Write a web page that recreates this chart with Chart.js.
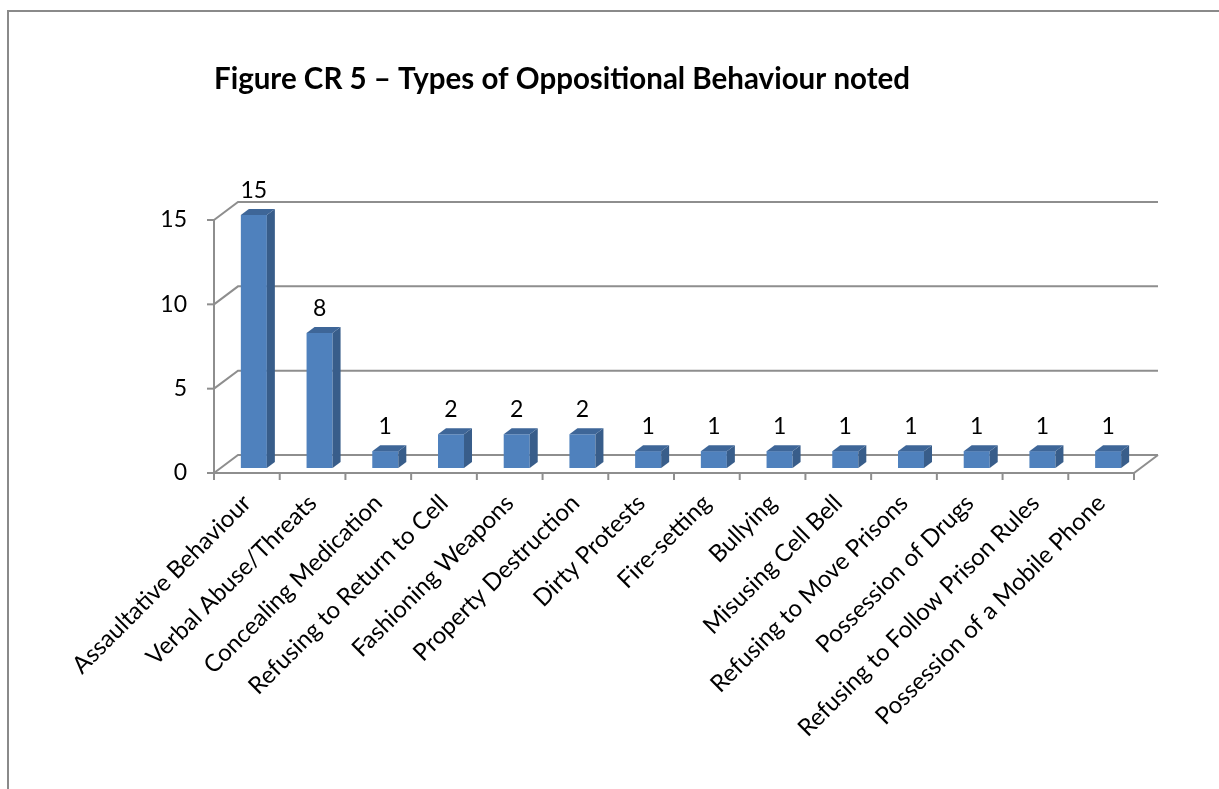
<!DOCTYPE html>
<html>
<head>
<meta charset="utf-8">
<script src="https://cdn.jsdelivr.net/npm/chart.js@4/dist/chart.umd.min.js"></script>
<style>
  html, body { margin: 0; padding: 0; background: #ffffff; }
  #wrap { width: 1219px; height: 789px; }
</style>
</head>
<body>
<div id="wrap"><canvas id="c" width="1219" height="789"></canvas></div>
<script>
const categories = [
  "Assaultative Behaviour",
  "Verbal Abuse/Threats",
  "Concealing Medication",
  "Refusing to Return to Cell",
  "Fashioning Weapons",
  "Property Destruction",
  "Dirty Protests",
  "Fire-setting",
  "Bullying",
  "Misusing Cell Bell",
  "Refusing to Move Prisons",
  "Possession of Drugs",
  "Refusing to Follow Prison Rules",
  "Possession of a Mobile Phone"
];
const counts = [15, 8, 1, 2, 2, 2, 1, 1, 1, 1, 1, 1, 1, 1];
const yTicks = [0, 5, 10, 15];
const titleText = "Figure CR 5 \u2013 Types of Oppositional Behaviour noted";

const FONT = "Lato, 'Open Sans', sans-serif";
const GRID = '#8e8e8e';
const DEPTH = { dx: 24, dy: -18 };   // back wall offset
const BAR_SHIFT = { dx: 7, dy: -5 }; // bar plane offset
const BAR_DEPTH = { dx: 8, dy: -6 }; // bar thickness

const framePlugin = {
  id: 'frame',
  beforeDraw(chart) {
    const ctx = chart.ctx;
    ctx.save();
    ctx.fillStyle = '#ffffff';
    ctx.fillRect(0, 0, chart.width, chart.height);
    ctx.strokeStyle = '#8a8a8a';
    ctx.lineWidth = 2;
    ctx.beginPath();
    ctx.moveTo(8, chart.height + 2);
    ctx.lineTo(8, 11);
    ctx.lineTo(chart.width + 2, 11);
    ctx.stroke();
    ctx.restore();
  }
};

const wallsPlugin = {
  id: 'walls',
  beforeDatasetsDraw(chart) {
    const ctx = chart.ctx;
    const xs = chart.scales.x, ys = chart.scales.y;
    const L = xs.left, R = xs.right;
    ctx.save();
    ctx.strokeStyle = GRID;
    ctx.lineWidth = 2;
    ctx.lineCap = 'butt';
    yTicks.forEach(v => {
      const y = ys.getPixelForValue(v);
      ctx.beginPath();
      ctx.moveTo(L, y);
      ctx.lineTo(L + DEPTH.dx, y + DEPTH.dy);
      ctx.lineTo(R + DEPTH.dx, y + DEPTH.dy);
      ctx.stroke();
      ctx.beginPath();
      ctx.moveTo(L - 7, y);
      ctx.lineTo(L, y);
      ctx.stroke();
    });
    const y0 = ys.getPixelForValue(0);
    const yTop = ys.getPixelForValue(15);
    ctx.beginPath();
    ctx.moveTo(L, yTop);
    ctx.lineTo(L, y0 + 7);
    ctx.stroke();
    ctx.beginPath();
    ctx.moveTo(L, y0);
    ctx.lineTo(R, y0);
    ctx.lineTo(R + DEPTH.dx, y0 + DEPTH.dy);
    ctx.stroke();
    const n = categories.length;
    for (let i = 0; i <= n; i++) {
      const x = L + (R - L) * i / n;
      ctx.beginPath();
      ctx.moveTo(x, y0);
      ctx.lineTo(x, y0 + 7);
      ctx.stroke();
    }
    ctx.restore();
    ctx.save();
    ctx.translate(BAR_SHIFT.dx, BAR_SHIFT.dy);
  },
  afterDatasetsDraw(chart) {
    const ctx = chart.ctx;
    const meta = chart.getDatasetMeta(0);
    meta.data.forEach(bar => {
      const p = bar.getProps(['x', 'y', 'base', 'width'], true);
      const l = p.x - p.width / 2, r = p.x + p.width / 2;
      const t = p.y, b = p.base;
      ctx.fillStyle = '#385d8a';
      ctx.beginPath();
      ctx.moveTo(r, t);
      ctx.lineTo(r + BAR_DEPTH.dx, t + BAR_DEPTH.dy);
      ctx.lineTo(r + BAR_DEPTH.dx, b + BAR_DEPTH.dy);
      ctx.lineTo(r, b);
      ctx.closePath();
      ctx.fill();
      ctx.fillStyle = '#3e6698';
      ctx.beginPath();
      ctx.moveTo(l, t);
      ctx.lineTo(l + BAR_DEPTH.dx, t + BAR_DEPTH.dy);
      ctx.lineTo(r + BAR_DEPTH.dx, t + BAR_DEPTH.dy);
      ctx.lineTo(r, t);
      ctx.closePath();
      ctx.fill();
    });
    ctx.restore();
    ctx.save();
    ctx.fillStyle = '#000000';
    ctx.font = "23px " + FONT;
    ctx.textAlign = 'center';
    ctx.textBaseline = 'alphabetic';
    meta.data.forEach((bar, i) => {
      const p = bar.getProps(['x', 'y'], true);
      ctx.fillText(String(counts[i]), p.x + BAR_SHIFT.dx, p.y + BAR_SHIFT.dy - 17);
    });
    ctx.restore();
  }
};

new Chart(document.getElementById('c'), {
  type: 'bar',
  data: {
    labels: categories,
    datasets: [{
      data: counts,
      backgroundColor: '#4f81bd',
      borderWidth: 0,
      categoryPercentage: 1.0,
      barPercentage: 0.396,
      clip: false
    }]
  },
  options: {
    responsive: false,
    animation: false,
    devicePixelRatio: 1,
    layout: { padding: { left: 0, right: 85, top: 0, bottom: 0 } },
    plugins: {
      legend: { display: false },
      tooltip: { enabled: false },
      title: {
        display: true,
        text: titleText,
        align: 'start',
        fullSize: false,
        color: '#000000',
        font: { family: FONT, size: 29.5, weight: 'bold' },
        padding: { top: 62, bottom: 122.6 }
      }
    },
    scales: {
      x: {
        grid: { display: false, drawTicks: false },
        border: { display: false },
        ticks: {
          autoSkip: false,
          minRotation: 45,
          maxRotation: 45,
          padding: 16,
          color: '#000000',
          font: { family: FONT, size: 24 }
        },
        afterFit(scale) { scale.height = 316; }
      },
      y: {
        min: 0,
        max: 15,
        grid: { display: false, drawTicks: false },
        border: { display: false },
        ticks: {
          stepSize: 5,
          padding: 27,
          color: '#000000',
          font: { family: FONT, size: 23 }
        },
        afterFit(scale) { scale.width = 214; }
      }
    }
  },
  plugins: [framePlugin, wallsPlugin]
});
</script>
</body>
</html>
